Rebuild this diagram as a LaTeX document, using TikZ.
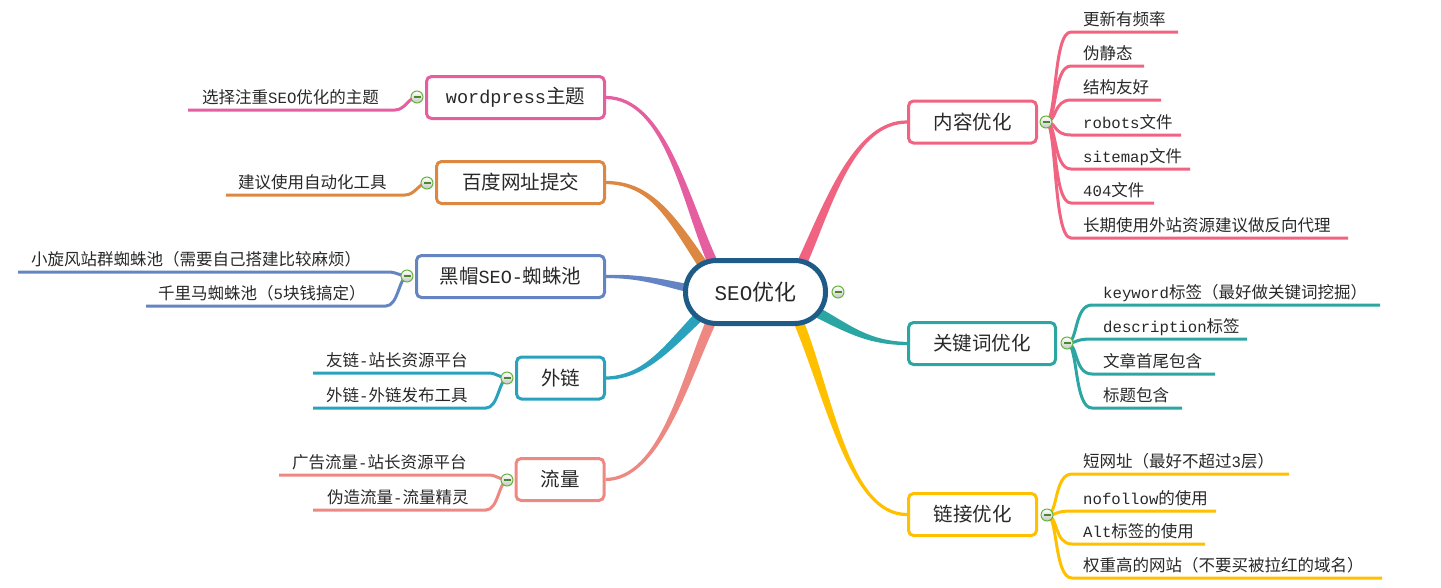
\documentclass[tikz,border=0pt]{standalone}
\usepackage{fontspec}
\setmainfont{Noto Sans CJK SC}
\newfontfamily\latinmono[Scale=0.95]{Liberation Mono}
\newcommand\lt[1]{{\latinmono #1}}
\usetikzlibrary{calc,backgrounds}
\definecolor{cPink}{RGB}{240,100,130}
\definecolor{cTeal}{RGB}{44,166,163}
\definecolor{cYel}{RGB}{255,192,0}
\definecolor{cMag}{RGB}{228,94,160}
\definecolor{cOra}{RGB}{220,136,66}
\definecolor{cBlu}{RGB}{100,132,196}
\definecolor{cCya}{RGB}{42,162,190}
\definecolor{cSal}{RGB}{238,136,130}
\definecolor{cRoot}{RGB}{30,92,135}
\definecolor{cBtn}{RGB}{100,180,60}
\definecolor{txt}{RGB}{40,40,40}
% #1 colour, #2 box anchor, #3 #4 controls, #5 node end, #6 half-width offset at node end
\newcommand\branch[6]{%
  \fill[#1] ($(#2)+(0,-1.6)$) .. controls ($(#3)+(0,-2)$) and ($(#4)+0.8*(#6)$) .. ($(#5)+(#6)$)
    -- ($(#5)-(#6)$) .. controls ($(#4)-0.8*(#6)$) and ($(#3)+(0,2)$) .. ($(#2)+(0,1.6)$) -- cycle;}
\begin{document}
\begin{tikzpicture}[x=1pt,y=-1pt,
  box/.style={draw=#1, line width=3pt, rounded corners=5pt, fill=white, minimum height=42pt,
    inner sep=0pt, text=txt, font=\fontsize{19.5}{22}\selectfont},
  rootbox/.style={draw=cRoot, line width=5pt, rounded corners=31pt, fill=white, minimum width=140pt,
    minimum height=63pt, inner sep=0pt, text=txt, font=\fontsize{22}{24}\selectfont},
  btn/.style={circle, draw=cBtn, line width=1pt, minimum size=12pt, inner sep=0pt,
    top color=white, bottom color=black!22,
    path picture={\draw[cBtn!75!black, line width=1.3pt]
      ($(path picture bounding box.center)+(-3.5pt,0)$) -- ++(7pt,0);}},
  sub/.style={draw=#1, line width=3pt},
  lbl/.style={anchor=base west, inner sep=0pt, text=txt, font=\fontsize{16.5}{18}\selectfont}]
\useasboundingbox (0,0) rectangle (1441,587);

% ---------- nodes ----------
\node[rootbox] (seo) at (755.5,292) {\lt{SEO}优化};
\node[btn] (b0) at (838,292) {};

\node[box=cPink, minimum width=128pt] (nr) at (972.5,122) {内容优化};
\node[box=cTeal, minimum width=147pt] (gj) at (982,343.5) {关键词优化};
\node[box=cYel, minimum width=128pt] (lj) at (972.5,514.5) {链接优化};
\node[box=cMag, minimum width=178pt] (wp) at (515.5,97.5) {\lt{wordpress}主题};
\node[box=cOra, minimum width=168pt] (bd) at (520.5,182.5) {百度网址提交};
\node[box=cBlu, minimum width=188pt] (hm) at (510.5,276.5) {黑帽\lt{SEO-}蜘蛛池};
\node[box=cCya, minimum width=88pt] (wl) at (560.5,378) {外链};
\node[box=cSal, minimum width=88pt] (ll) at (560,479.5) {流量};

\node[btn] (b1) at (1046,122) {};
\node[btn] (b2) at (1067,343) {};
\node[btn] (b3) at (1047,515) {};
\node[btn] (b4) at (417,97) {};
\node[btn] (b5) at (427,183) {};
\node[btn] (b6) at (407,276) {};
\node[btn] (b7) at (507,378) {};
\node[btn] (b8) at (507,480) {};

% branch ends on the root
\coordinate (e1) at ($(seo.center)+(-43,-30)$);
\coordinate (e2) at ($(seo.center)+(-53,-28)$);
\coordinate (e3) at ($(seo.center)+(-68,-4)$);
\coordinate (e4) at ($(seo.center)+(-57,25)$);
\coordinate (e5) at ($(seo.center)+(-45,31)$);
\coordinate (e6) at ($(seo.center)+(47,-30)$);
\coordinate (e7) at ($(seo.center)+(63,21)$);
\coordinate (e8) at ($(seo.center)+(44,32)$);

% ---------- labels ----------
\node[lbl] (t11) at (1083,25) {更新有频率};
\node[lbl] (t12) at (1083,59) {伪静态};
\node[lbl] (t13) at (1083,93) {结构友好};
\node[lbl] (t14) at (1083,128) {\lt{robots}文件};
\node[lbl] (t15) at (1083,162) {\lt{sitemap}文件};
\node[lbl] (t16) at (1083,196) {\lt{404}文件};
\node[lbl] (t17) at (1083,231) {长期使用外站资源建议做反向代理};

\node[lbl] (t21) at (1103,298) {\lt{keyword}标签（最好做关键词挖掘）};
\node[lbl] (t22) at (1103,332) {\lt{description}标签};
\node[lbl] (t23) at (1103,367) {文章首尾包含};
\node[lbl] (t24) at (1103,401) {标题包含};

\node[lbl] (t31) at (1083,467) {短网址（最好不超过\lt{3}层）};
\node[lbl] (t32) at (1083,504) {\lt{nofollow}的使用};
\node[lbl] (t33) at (1083,537) {\lt{Alt}标签的使用};
\node[lbl] (t34) at (1083,571) {权重高的网站（不要买被拉红的域名）};

\node[lbl] (t41) at (202,103) {选择注重\lt{SEO}优化的主题};
\node[lbl] (t51) at (238,188) {建议使用自动化工具};
\node[lbl] (t61) at (31,265) {小旋风站群蜘蛛池（需要自己搭建比较麻烦）};
\node[lbl] (t62) at (158,299) {千里马蜘蛛池（\lt{5}块钱搞定）};
\node[lbl] (t71) at (326,366) {友链\lt{-}站长资源平台};
\node[lbl] (t72) at (326,401) {外链\lt{-}外链发布工具};
\node[lbl] (t81) at (292,468) {广告流量\lt{-}站长资源平台};
\node[lbl] (t82) at (327,503) {伪造流量\lt{-}流量精灵};

% ---------- connectors ----------
\begin{scope}[on background layer]
  \branch{cMag}{wp.east}{665,98}{685,200}{e1}{4.6,-2.1}
  \branch{cOra}{bd.east}{650,183}{670,215}{e2}{4.1,-2.8}
  \branch{cBlu}{hm.east}{640,276}{660,282}{e3}{0.9,-3.9}
  \branch{cCya}{wl.east}{645,378}{670,345}{e4}{-3.5,-3.6}
  \branch{cSal}{ll.east}{660,479}{685,380}{e5}{-4.6,-2.1}
  \branch{cPink}{nr.west}{855,122}{830,200}{e6}{-4.6,-2.1}
  \branch{cTeal}{gj.west}{870,343}{850,330}{e7}{2.5,-4.4}
  \branch{cYel}{lj.west}{850,515}{830,400}{e8}{4.6,-1.9}

  % content children
  \foreach \y/\e in {32/1178,66/1144,100/1161,135/1181,169/1190,203/1154,238/1348}
    \draw[sub=cPink] (b1.center) .. controls (1057,122) and (1053,\y) .. (1071,\y) -- (\e,\y);
  % keyword children
  \foreach \y/\e in {305/1380,339/1247,374/1215,408/1182}
    \draw[sub=cTeal] (b2.center) .. controls (1078,343) and (1074,\y) .. (1092,\y) -- (\e,\y);
  % link children
  \foreach \y/\e in {474/1289,511/1216,544/1205,578/1382}
    \draw[sub=cYel] (b3.center) .. controls (1058,515) and (1054,\y) .. (1072,\y) -- (\e,\y);

  % left children
  \draw[sub=cMag] (188,110) -- (395,110) .. controls (405,110) and (409,97) .. (b4.center);
  \draw[sub=cOra] (226,195) -- (405,195) .. controls (415,195) and (419,183) .. (b5.center);
  \draw[sub=cBlu] (18,272) -- (388,272) .. controls (397,272) and (400,276) .. (b6.center);
  \draw[sub=cBlu] (146,306) -- (386,306) .. controls (398,306) and (399,278) .. (b6.center);
  \draw[sub=cCya] (313,373) -- (488,373) .. controls (497,373) and (500,378) .. (b7.center);
  \draw[sub=cCya] (313,408) -- (486,408) .. controls (498,408) and (499,380) .. (b7.center);
  \draw[sub=cSal] (279,475) -- (488,475) .. controls (497,475) and (500,480) .. (b8.center);
  \draw[sub=cSal] (313,510) -- (486,510) .. controls (498,510) and (499,482) .. (b8.center);
\end{scope}
\end{tikzpicture}
\end{document}
